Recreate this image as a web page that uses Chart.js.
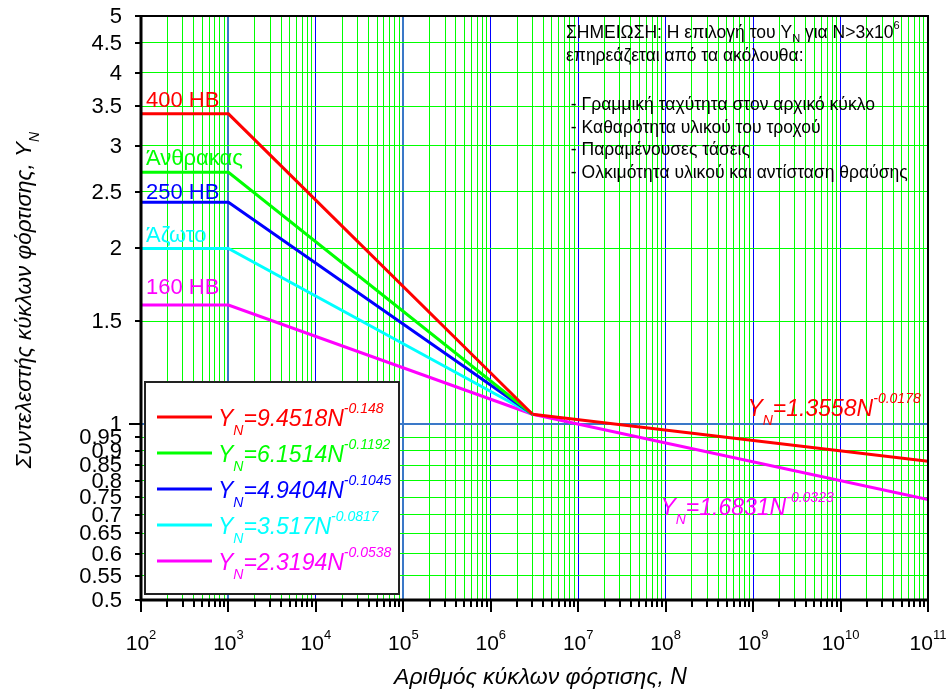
<!DOCTYPE html>
<html>
<head>
<meta charset="utf-8">
<script src="https://cdn.jsdelivr.net/npm/chart.js@4/dist/chart.umd.min.js"></script>
<style>
  html, body { margin: 0; padding: 0; background: #ffffff; }
  #c { display: block; }
</style>
</head>
<body>
<canvas id="c" width="951" height="693"></canvas>
<script>
// Number of load cycles N at the break points of the curves
const cyclesLow = [1e2, 1e3, 3e6];
const cyclesHigh = [3e6, 1e11];

// Stress cycle factor Y_N for each material (values at the break points)
const hb400 = [3.40, 3.40, 1.04];
const carburized = [2.70, 2.70, 1.04];
const hb250 = [2.40, 2.40, 1.04];
const nitrided = [2.00, 2.00, 1.04];
const hb160 = [1.60, 1.60, 1.04];
// Branches beyond N = 3x10^6
const upperBranch = [1.04, 0.864];
const lowerBranch = [1.04, 0.743];

const seriesNames = ['400 HB', 'Άνθρακας', '250 HB', 'Άζωτο', '160 HB'];
const seriesColors = ['#ff0000', '#00ff00', '#0000ff', '#00ffff', '#ff00ff'];
const formulaCoefs = ['9.4518', '6.1514', '4.9404', '3.517', '2.3194'];
const formulaExps = ['-0.148', '-0.1192', '-0.1045', '-0.0817', '-0.0538'];

// Axis ticks
const xDecades = [2, 3, 4, 5, 6, 7, 8, 9, 10, 11];
const yTickValues = [0.5, 0.55, 0.6, 0.65, 0.7, 0.75, 0.8, 0.85, 0.9, 0.95, 1, 1.5, 2, 2.5, 3, 3.5, 4, 4.5, 5];
const yTickLabels = ['0.5', '0.55', '0.6', '0.65', '0.7', '0.75', '0.8', '0.85', '0.9', '0.95', '1', '1.5', '2', '2.5', '3', '3.5', '4', '4.5', '5'];

const noteLines = [
  ['ΣΗΜΕΙΩΣΗ: Η επιλογή του Y', 'N', ' για N>3x10', '6'],
  ['επηρεάζεται από τα ακόλουθα:'],
  [' - Γραμμική ταχύτητα στον αρχικό κύκλο'],
  [' - Καθαρότητα υλικού του τροχού'],
  [' - Παραμένουσες τάσεις'],
  [' - Ολκιμότητα υλικού και αντίσταση θραύσης']
];

const FONT = '"Liberation Sans", Arial, Helvetica, sans-serif';

// every minor/major position on the log x axis
const xTickPositions = [];
for (let e = 2; e <= 11; e++) {
  for (let m = 1; m <= 9; m++) {
    if (e === 11 && m > 1) break;
    xTickPositions.push(m * Math.pow(10, e));
  }
}

function pts(xs, ys) { return xs.map((x, i) => ({ x: x, y: ys[i] })); }

const datasets = [];
const lowSeries = [hb400, carburized, hb250, nitrided, hb160];
lowSeries.forEach((ys, i) => {
  datasets.push({ label: seriesNames[i], data: pts(cyclesLow, ys), borderColor: seriesColors[i] });
});
datasets.push({ label: '400 HB tail', data: pts(cyclesHigh, upperBranch), borderColor: seriesColors[0] });
datasets.push({ label: '160 HB tail', data: pts(cyclesHigh, lowerBranch), borderColor: seriesColors[4] });
datasets.forEach(d => { d.borderWidth = 3; d.pointRadius = 0; d.fill = false; d.tension = 0; d.borderCapStyle = 'butt'; });

function isDecade(v) {
  const l = Math.log10(v);
  return Math.abs(l - Math.round(l)) < 1e-9;
}

// Draws a run of text pieces; each piece: [text, size, dy, italic]
function drawRich(ctx, x, y, pieces, color, align) {
  let total = 0;
  pieces.forEach(p => {
    ctx.font = (p[3] ? 'italic ' : '') + p[1] + 'px ' + FONT;
    total += ctx.measureText(p[0]).width;
  });
  let cx = x;
  if (align === 'center') cx = x - total / 2;
  else if (align === 'right') cx = x - total;
  ctx.fillStyle = color;
  ctx.textAlign = 'left';
  ctx.textBaseline = 'alphabetic';
  pieces.forEach(p => {
    ctx.font = (p[3] ? 'italic ' : '') + p[1] + 'px ' + FONT;
    ctx.fillText(p[0], cx, y + (p[2] || 0));
    cx += ctx.measureText(p[0]).width;
  });
}

function formulaPieces(coef, exp) {
  return [['Y', 23, 0, true], ['N', 14, 9, true], ['=' + coef + 'N', 23, 0, true], [exp, 14, -13, true]];
}

const decorations = {
  id: 'decorations',
  afterDatasetsDraw(chart) {
    const ctx = chart.ctx;
    const xs = chart.scales.x, ys = chart.scales.y;
    const a = chart.chartArea;
    ctx.save();

    // frame
    ctx.strokeStyle = '#000000';
    ctx.lineWidth = 2;
    ctx.strokeRect(a.left, a.top, a.right - a.left, a.bottom - a.top);
    ctx.lineWidth = 3;
    ctx.beginPath();
    ctx.moveTo(a.left, a.top); ctx.lineTo(a.left, a.bottom); ctx.lineTo(a.right, a.bottom);
    ctx.stroke();

    // x tick marks and labels
    ctx.lineWidth = 2;
    xTickPositions.forEach(v => {
      const px = Math.round(xs.getPixelForValue(v));
      const len = isDecade(v) ? 12 : 7;
      ctx.beginPath();
      ctx.moveTo(px, a.bottom);
      ctx.lineTo(px, a.bottom + len);
      ctx.stroke();
    });
    xDecades.forEach(e => {
      const px = xs.getPixelForValue(Math.pow(10, e));
      drawRich(ctx, px, a.bottom + 50, [['10', 21, 0, false], [String(e), 13, -11, false]], '#000000', 'center');
    });

    // y tick marks and labels
    yTickValues.forEach((v, i) => {
      const py = Math.round(ys.getPixelForValue(v));
      ctx.strokeStyle = '#000000';
      ctx.lineWidth = 2;
      ctx.beginPath();
      ctx.moveTo(a.left - (v === 1 ? 12 : 6), py);
      ctx.lineTo(a.left, py);
      ctx.stroke();
      ctx.font = '22px ' + FONT;
      ctx.fillStyle = '#000000';
      ctx.textAlign = 'right';
      ctx.textBaseline = 'middle';
      ctx.fillText(yTickLabels[i], a.left - 19, py + 1);
    });

    // axis titles
    drawRich(ctx, (a.left + a.right) / 2 + 6, a.bottom + 84, [['Αριθμός κύκλων φόρτισης, N', 23, 0, true]], '#000000', 'center');
    ctx.save();
    ctx.translate(31, 300);
    ctx.rotate(-Math.PI / 2);
    drawRich(ctx, 0, 0, [['Συντελεστής κύκλων φόρτισης, Y', 22.5, 0, true], ['N', 14, 8, true]], '#000000', 'center');
    ctx.restore();

    // material labels above each plateau
    const labelDy = [-7, -7, -3, -6, -11];
    lowSeries.forEach((s, i) => {
      const py = ys.getPixelForValue(s[0]);
      drawRich(ctx, a.left + 5, py + labelDy[i], [[seriesNames[i], 22, 0, false]], seriesColors[i], 'left');
    });

    // branch equations
    drawRich(ctx, xs.getPixelForValue(8.6e8), ys.getPixelForValue(1.064) + 8,
      formulaPieces('1.3558', '-0.0178'), '#ff0000', 'left');
    drawRich(ctx, xs.getPixelForValue(8.7e7), ys.getPixelForValue(0.721) + 8,
      formulaPieces('1.6831', '-0.0323'), '#ff00ff', 'left');

    // note
    const noteX = a.left + 425;
    const noteY = [38, 61, 110, 133, 155, 178];
    noteLines.forEach((ln, i) => {
      const pieces = ln.length === 4
        ? [[ln[0], 17.5, 0, false], [ln[1], 11, 4, false], [ln[2], 17.5, 0, false], [ln[3], 11, -9, false]]
        : [[ln[0], 17.5, 0, false]];
      drawRich(ctx, noteX, noteY[i], pieces, '#000000', 'left');
    });

    // legend box
    const bx = a.left + 4, by = 382, bw = 254, bh = 212;
    ctx.fillStyle = '#ffffff';
    ctx.fillRect(bx, by, bw, bh);
    ctx.strokeStyle = '#222222';
    ctx.lineWidth = 2;
    ctx.strokeRect(bx, by, bw, bh);
    lowSeries.forEach((s, i) => {
      const base = 426 + i * 36;
      ctx.strokeStyle = seriesColors[i];
      ctx.lineWidth = 3;
      ctx.beginPath();
      ctx.moveTo(bx + 12, base - 9);
      ctx.lineTo(bx + 67, base - 9);
      ctx.stroke();
      drawRich(ctx, bx + 73, base, formulaPieces(formulaCoefs[i], formulaExps[i]), seriesColors[i], 'left');
    });

    ctx.restore();
  }
};

new Chart(document.getElementById('c'), {
  type: 'line',
  data: { datasets: datasets },
  options: {
    responsive: false,
    devicePixelRatio: 1,
    animation: false,
    layout: { padding: { left: 141, right: 23, top: 16, bottom: 93 } },
    plugins: { legend: { display: false }, tooltip: { enabled: false } },
    scales: {
      x: {
        type: 'logarithmic',
        min: 1e2,
        max: 1e11,
        afterBuildTicks: s => { s.ticks = xTickPositions.map(v => ({ value: v })); },
        ticks: { display: false },
        border: { display: false },
        grid: {
          drawTicks: false,
          color: c => {
            const v = c.tick ? c.tick.value : 0;
            if (v === 1e3 || v === 1e5) return '#3a78c8';
            return isDecade(v) ? '#0000ff' : '#00ff00';
          },
          lineWidth: c => {
            const v = c.tick ? c.tick.value : 0;
            return (v === 1e3 || v === 1e5) ? 2 : 1;
          }
        }
      },
      y: {
        type: 'logarithmic',
        min: 0.5,
        max: 5,
        afterBuildTicks: s => { s.ticks = yTickValues.map(v => ({ value: v })); },
        ticks: { display: false },
        border: { display: false },
        grid: {
          drawTicks: false,
          color: c => (c.tick && c.tick.value === 1) ? '#3a78c8' : '#00ff00',
          lineWidth: c => (c.tick && c.tick.value === 1) ? 2 : 1
        }
      }
    }
  },
  plugins: [decorations]
});
</script>
</body>
</html>
